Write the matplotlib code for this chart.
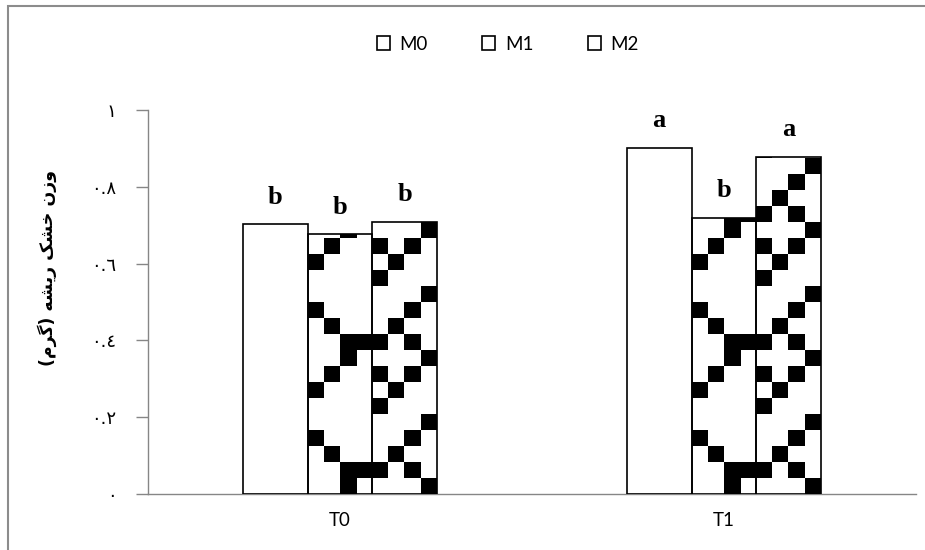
import numpy as np
import matplotlib
matplotlib.use("Agg")
import matplotlib.pyplot as plt
from matplotlib.patches import Patch, Rectangle

plt.rcParams.update({
    "font.family": ["Lato", "DejaVu Sans"],
    "font.size": 13.5,
    "axes.linewidth": 1.0,
})

# data
treatments = ["T0", "T1"]
series = ["M0", "M1", "M2"]
values = {
    "M0": [0.702, 0.901],
    "M1": [0.676, 0.718],
    "M2": [0.708, 0.877],
}
letters = {
    "M0": ["b", "a"],
    "M1": ["b", "b"],
    "M2": ["b", "a"],
}
yticks = [0, 0.2, 0.4, 0.6, 0.8, 1.0]
ytick_labels = ["\u0660", "\u0660.\u0662", "\u0660.\u0664", "\u0660.\u0666", "\u0660.\u0668", "\u0661"]
# "وزن خشک ریشه (گرم)" in presentation forms, visual order
ylabel = ("(\uFEE1\uFEAE\uFB94) \uFEEA\uFEB8\uFBFE\uFEAD "
          "\uFB8F\uFEB8\uFEA7 \uFEE5\uFEAF\uFEED")

# 8-row pattern tiles, 4 cells across one bar (top row first)
tiles = {
    "M0": None,
    "M1": np.array([[0, 0, 1, 0],
                    [0, 1, 0, 0],
                    [1, 0, 0, 0],
                    [0, 0, 0, 0],
                    [0, 0, 0, 0],
                    [1, 0, 0, 0],
                    [0, 1, 0, 0],
                    [0, 0, 1, 1]]),
    "M2": np.array([[0, 0, 0, 1],
                    [1, 0, 1, 0],
                    [0, 1, 0, 0],
                    [1, 0, 0, 0],
                    [0, 0, 0, 1],
                    [0, 0, 1, 0],
                    [0, 1, 0, 0],
                    [1, 0, 1, 0]]),
}

fig = plt.figure(figsize=(9.25, 5.5), dpi=100)
ax = fig.add_axes([148/925, 56/550, 768/925, 384/550])

x = np.arange(len(treatments))
width = 0.169
cell = 1/24  # pattern cell height in data units

for i, s in enumerate(series):
    bars = ax.bar(x + (i - 1)*width, values[s], width, color="none",
                  edgecolor="black", linewidth=1.2, zorder=4)
    for bar, lab in zip(bars, letters[s]):
        h = bar.get_height()
        if tiles[s] is not None:
            n = int(np.ceil(h / cell))
            rows = [tiles[s][(-k) % 8] for k in range(n)][::-1]
            img = ax.imshow(np.array(rows), cmap="gray_r", vmin=0, vmax=1,
                            interpolation="nearest", aspect="auto",
                            extent=(bar.get_x(), bar.get_x() + bar.get_width(), 0, n*cell),
                            zorder=3)
            img.set_clip_path(bar)
        ax.annotate(lab, (bar.get_x() + bar.get_width()/2, h), xytext=(0, 15),
                    textcoords="offset points", ha="center", va="baseline",
                    fontsize=19, fontweight="bold", family="Liberation Serif")

ax.set_xlim(-0.5, 1.5)
ax.set_ylim(0, 1)
ax.set_xticks(x)
ax.set_xticklabels(treatments)
ax.set_yticks(yticks)
ax.set_yticklabels(ytick_labels, family="DejaVu Sans", fontsize=13)
ax.tick_params(axis="x", length=0, pad=13)
ax.tick_params(axis="y", length=8.6, width=1.0, color="#868686", pad=14)
for side in ["top", "right"]:
    ax.spines[side].set_visible(False)
for side in ["left", "bottom"]:
    ax.spines[side].set_color("#868686")

fig.text(47/925, 1 - 268/550, ylabel, rotation=90, ha="center", va="center",
         family="DejaVu Sans", fontweight="bold", fontsize=12.5)

handles = [Patch(facecolor="white", edgecolor="black", linewidth=1.2) for s in series]
fig.legend(handles, series, loc="center", bbox_to_anchor=(0.549, 1 - 44/550),
           ncol=3, frameon=False, handlelength=0.7, handleheight=0.7,
           handletextpad=0.5, columnspacing=2.9)

fig.patches.append(Rectangle((8/925, -0.1), 1.2, 1 - 6/550 + 0.1,
                             transform=fig.transFigure, fill=False,
                             edgecolor="#8c8c8c", linewidth=1.5))

fig.savefig("out.png", dpi=100)
